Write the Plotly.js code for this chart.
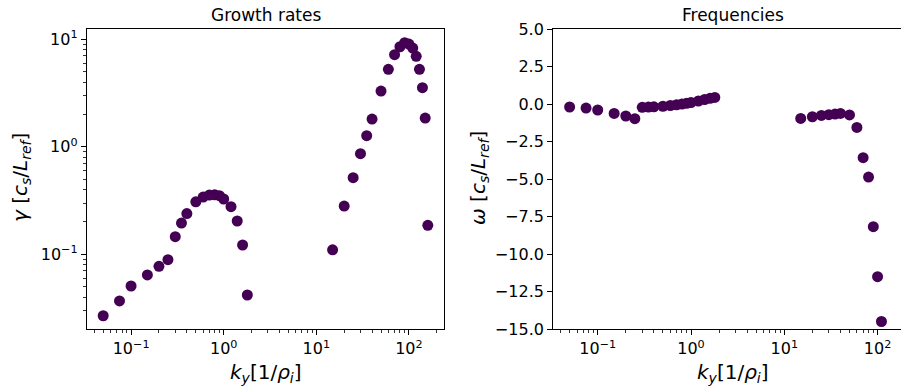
<!DOCTYPE html>
<html>
<head>
<meta charset="utf-8">
<script src="https://cdn.plot.ly/plotly-3.0.1.min.js"></script>
<style>html,body{margin:0;padding:0;overflow:hidden;background:#fff;}#chart{width:901px;height:389px;}</style>
</head>
<body>
<div id="chart"></div>
<script>
// Growth rates
const kyGrowth = [0.05, 0.075, 0.1, 0.15, 0.2, 0.25, 0.3, 0.35, 0.4, 0.5, 0.6, 0.7, 0.8, 0.9, 1.0, 1.2, 1.4, 1.6, 1.8,
                  15, 20, 25, 30, 35, 40, 50, 60, 70, 80, 90, 100, 110, 120, 130, 140, 150, 160];
const gamma = [0.0268, 0.0368, 0.0507, 0.0642, 0.0773, 0.0891, 0.146, 0.195, 0.239, 0.308, 0.341, 0.356, 0.358, 0.351, 0.327, 0.277, 0.204, 0.122, 0.0418,
               0.11, 0.281, 0.516, 0.863, 1.27, 1.81, 3.30, 5.26, 7.19, 8.53, 9.30, 9.04, 8.30, 6.95, 5.26, 3.55, 1.85, 0.186];
// Frequencies (visible points)
const kyFreq = [0.05, 0.075, 0.1, 0.15, 0.2, 0.25, 0.3, 0.35, 0.4, 0.5, 0.6, 0.7, 0.8, 0.9, 1.0, 1.2, 1.4, 1.6, 1.8,
                15, 20, 25, 30, 35, 40, 50, 60, 70, 80, 90, 100, 110];
const omega = [-0.2, -0.27, -0.4, -0.63, -0.8, -0.98, -0.22, -0.2, -0.19, -0.15, -0.1, -0.05, 0.0, 0.05, 0.1, 0.2, 0.3, 0.38, 0.44,
               -0.96, -0.85, -0.76, -0.71, -0.67, -0.63, -0.73, -1.56, -3.58, -4.87, -8.18, -11.51, -14.5];
// Tick labels
const kyTickVals = [0.1, 1, 10, 100];
const kyTickText = ['10<sup>\u22121</sup>', '10<sup>0</sup>', '10<sup>1</sup>', '10<sup>2</sup>'];
const gammaTickVals = [0.1, 1, 10];
const gammaTickText = ['10<sup>\u22121</sup>', '10<sup>0</sup>', '10<sup>1</sup>'];
const omegaTicks = [5, 2.5, 0, -2.5, -5, -7.5, -10, -12.5, -15];

const W = 901, H = 389;
const px = v => v / W;
const py = v => 1 - v / H;
const dark = '#440154';
const font = {family: 'DejaVu Sans, sans-serif', size: 16, color: '#000'};
const titleFont = {family: 'DejaVu Sans, sans-serif', size: 17, color: '#000'};
const labelFont = {family: 'DejaVu Sans, sans-serif', size: 20, color: '#000'};

const marker = {color: dark, size: 11, line: {width: 0}};
const data = [
  {x: kyGrowth, y: gamma, type: 'scatter', mode: 'markers', marker: marker, xaxis: 'x', yaxis: 'y', cliponaxis: true},
  {x: kyFreq, y: omega, type: 'scatter', mode: 'markers', marker: marker, xaxis: 'x2', yaxis: 'y2', cliponaxis: true}
];

const common = {
  showline: true, linecolor: '#000', linewidth: 1.2, ticks: 'outside', ticklen: 5, tickwidth: 1,
  tickcolor: '#000', showgrid: false, zeroline: false, tickfont: font
};
const minorLog = {dtick: 'D1', ticks: 'outside', ticklen: 2.5, tickwidth: 0.8, tickcolor: '#000', showgrid: false};
const logx = Object.assign({}, common, {
  type: 'log', tickmode: 'array', tickvals: kyTickVals, ticktext: kyTickText, mirror: true, minor: minorLog
});

const layout = {
  width: W, height: H, margin: {l: 0, r: 0, t: 0, b: 0}, showlegend: false,
  paper_bgcolor: '#fff', plot_bgcolor: '#fff', font: font,
  xaxis: Object.assign({}, logx, {domain: [px(87), px(444)], range: [-1.476, 2.379], anchor: 'y'}),
  yaxis: Object.assign({}, common, {
    type: 'log', tickmode: 'array', tickvals: gammaTickVals, ticktext: gammaTickText, mirror: true,
    domain: [py(329), py(29)], range: [-1.695, 1.096], anchor: 'x', minor: minorLog
  }),
  xaxis2: Object.assign({}, logx, {domain: [px(553.3), 1], range: [-1.476, 2.251], anchor: 'y2'}),
  yaxis2: Object.assign({}, common, {
    mirror: false, domain: [py(329), py(29)], range: [-15, 5], anchor: 'x2',
    tickmode: 'array', tickvals: omegaTicks,
    ticktext: omegaTicks.map(v => (v < 0 ? '\u2212' : '') + Math.abs(v).toFixed(1))
  }),
  annotations: [
    {text: 'Growth rates', xref: 'paper', yref: 'paper', x: px(265.5), y: py(15), showarrow: false, font: titleFont, xanchor: 'center', yanchor: 'middle'},
    {text: 'Frequencies', xref: 'paper', yref: 'paper', x: px(733), y: py(15), showarrow: false, font: titleFont, xanchor: 'center', yanchor: 'middle'},
    {text: '<i>k<sub>y</sub></i>[1/<i>ρ<sub>i</sub></i>]', xref: 'paper', yref: 'paper', x: px(265.5), y: py(373), showarrow: false, font: labelFont, xanchor: 'center', yanchor: 'middle'},
    {text: '<i>k<sub>y</sub></i>[1/<i>ρ<sub>i</sub></i>]', xref: 'paper', yref: 'paper', x: px(733), y: py(373), showarrow: false, font: labelFont, xanchor: 'center', yanchor: 'middle'},
    {text: '<i>γ</i> [<i>c<sub>s</sub></i>/<i>L<sub>ref</sub></i>]', xref: 'paper', yref: 'paper', x: px(21), y: py(178), textangle: -90, showarrow: false, font: labelFont, xanchor: 'center', yanchor: 'middle'},
    {text: '<i>ω</i> [<i>c<sub>s</sub></i>/<i>L<sub>ref</sub></i>]', xref: 'paper', yref: 'paper', x: px(479), y: py(178), textangle: -90, showarrow: false, font: labelFont, xanchor: 'center', yanchor: 'middle'}
  ]
};

Plotly.newPlot('chart', data, layout, {staticPlot: true, displayModeBar: false});
</script>
</body>
</html>
